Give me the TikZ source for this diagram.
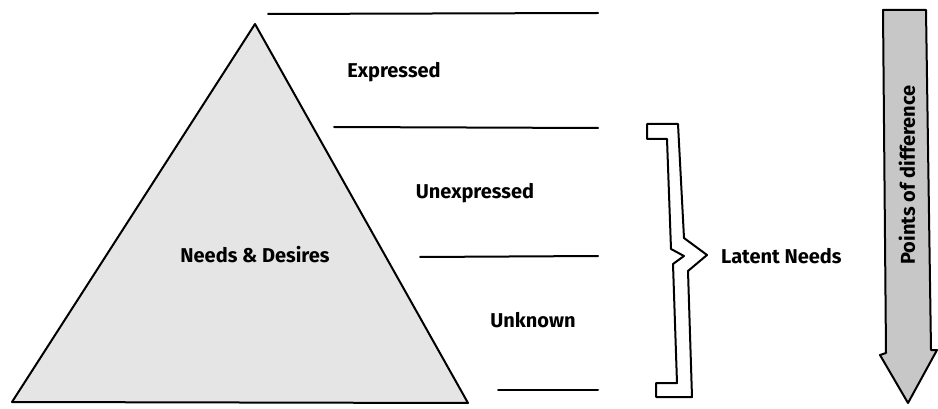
\documentclass[tikz,border=0pt]{standalone}
\usepackage{fontspec}
\setmainfont{Fira Sans}
\begin{document}
\begin{tikzpicture}[x=1pt,y=-1pt,
  ink/.style={draw=black,line width=2pt,line join=round,line cap=round},
  lbl/.style={font=\fontsize{20}{22}\selectfont\bfseries,inner sep=0pt}]
\useasboundingbox (0,0) rectangle (938,409);
% pyramid
\coordinate (apex) at (255,24);
\coordinate (bl) at (12,402);
\coordinate (br) at (468,403);
\draw[ink,fill=black!10] (apex) -- (bl) -- (br) -- cycle;
% level lines
\coordinate (l1a) at (268,14);  \coordinate (l1b) at (598,13);
\coordinate (l2a) at (334,127); \coordinate (l2b) at (598,128);
\coordinate (l3a) at (420,257); \coordinate (l3b) at (598,256);
\coordinate (l4a) at (498,390); \coordinate (l4b) at (598,390);
\draw[ink] (l1a) -- (l1b);
\draw[ink] (l2a) -- (l2b);
\draw[ink] (l3a) -- (l3b);
\draw[ink] (l4a) -- (l4b);
% labels
\node[lbl] (nd) at (255,255) {Needs \& Desires};
\node[lbl] (ex) at (394,72) {Expressed};
\node[lbl] (un) at (475,193) {Unexpressed};
\node[lbl] (uk) at (533,320) {Unknown};
% brace (outlined)
\draw[ink] (647,124) -- (678,124) -- (684,238) -- (707,255) -- (688,271) -- (692,397)
  -- (656,397) -- (656,383) -- (677,383) -- (673,264) -- (684,256) -- (671,249)
  -- (667,139) -- (647,139) -- cycle;
\node[lbl,anchor=west] (ln) at (721,256) {Latent Needs};
% arrow
\draw[ink,fill=black!22] (883,10) -- (926,10) -- (931,350) -- (937,350) -- (908,403)
  -- (880,355) -- (886,353) -- cycle;
\node[lbl,rotate=90] (pd) at (907,175) {Points of difference};
\end{tikzpicture}
\end{document}
